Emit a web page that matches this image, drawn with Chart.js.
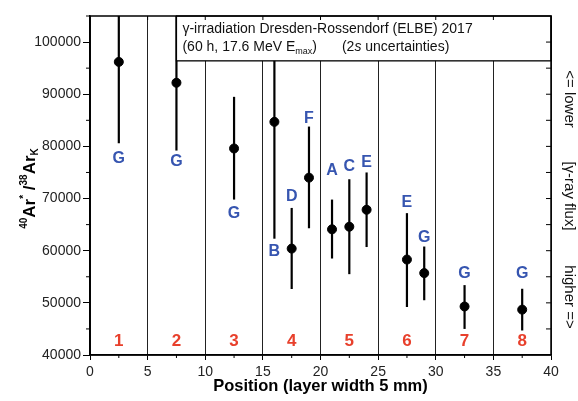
<!DOCTYPE html>
<html>
<head>
<meta charset="utf-8">
<script src="https://cdn.jsdelivr.net/npm/chart.js@4.4.0/dist/chart.umd.min.js"></script>
<style>
  html, body { margin: 0; padding: 0; background: #fff; }
  #wrap { width: 578px; height: 401px; }
</style>
</head>
<body>
<div id="wrap"><canvas id="grafico" width="578" height="401"></canvas></div>
<script>
// datos
const posicion = [2.5, 7.5, 12.5, 16, 17.5, 19, 21, 22.5, 24, 27.5, 29, 32.5, 37.5];
const razon    = [96200, 92200, 79600, 84700, 60400, 74000, 64100, 64600, 67850, 58300, 55700, 49300, 48700];
const errBajo  = [80600, 79200, 69800, 62300, 52650, 64300, 58500, 55500, 60700, 49200, 50500, 45000, 44700];
const errAlto  = [111800, 105200, 89500, 107100, 68200, 83800, 69800, 73700, 75000, 67200, 60800, 53400, 52700];
const muestras = ["G", "G", "G", "B", "D", "F", "A", "C", "E", "E", "G", "G", "G"];
const muestraY = [77700, 77000, 67100, 59900, 70300, 85400, 75300, 76200, 76900, 69200, 62600, 55600, 55600];
const capas    = ["1", "2", "3", "4", "5", "6", "7", "8"];
const capaX    = [2.5, 7.5, 12.5, 17.5, 22.5, 27.5, 32.5, 37.5];
const capaY    = 42600;
const ticksY   = [40000, 50000, 60000, 70000, 80000, 90000, 100000];
const cajaY    = 96400; // borde inferior del recuadro de leyenda
const cajaX    = 7.5;

const fuente = "Arial, 'Liberation Sans', sans-serif";

// barras de error, debajo de los puntos
const barrasError = {
    id: "barrasError",
    beforeDatasetsDraw(chart) {
        const { ctx, chartArea, scales } = chart;
        ctx.save();
        ctx.beginPath();
        ctx.rect(chartArea.left, chartArea.top, chartArea.width, chartArea.height);
        ctx.clip();
        ctx.strokeStyle = "#000";
        ctx.lineWidth = 2.2;
        posicion.forEach((x, i) => {
            let px = scales.x.getPixelForValue(x);
            ctx.beginPath();
            ctx.moveTo(px, scales.y.getPixelForValue(errBajo[i]));
            ctx.lineTo(px, scales.y.getPixelForValue(errAlto[i]));
            ctx.stroke();
        });
        ctx.restore();
    }
};

// recuadro, marco, marcas menores y textos
const decorado = {
    id: "decorado",
    afterDatasetsDraw(chart) {
        const { ctx, chartArea, scales } = chart;
        const xs = scales.x, ys = scales.y;
        ctx.save();

        // recuadro de leyenda
        let bx = xs.getPixelForValue(cajaX);
        let by = ys.getPixelForValue(cajaY);
        ctx.fillStyle = "#fff";
        ctx.fillRect(bx, chartArea.top, chartArea.right - bx, by - chartArea.top);
        ctx.strokeStyle = "#000";
        ctx.lineWidth = 1.3;
        ctx.strokeRect(bx, chartArea.top, chartArea.right - bx, by - chartArea.top);

        ctx.fillStyle = "#111";
        ctx.textBaseline = "middle";
        ctx.textAlign = "left";
        ctx.font = "14px " + fuente;
        let tx = bx + 6;
        ctx.fillText("\u03b3-irradiation Dresden-Rossendorf (ELBE) 2017", tx, chartArea.top + 13);
        let ly = chartArea.top + 31;
        let t1 = "(60 h, 17.6 MeV E";
        ctx.fillText(t1, tx, ly);
        let w = tx + ctx.measureText(t1).width;
        ctx.font = "9px " + fuente;
        ctx.fillText("max", w, ly + 5);
        w += ctx.measureText("max").width;
        ctx.font = "14px " + fuente;
        ctx.fillText(")", w, ly);
        w += ctx.measureText(")").width + 25;
        ctx.fillText("(2", w, ly);
        w += ctx.measureText("(2").width;
        ctx.font = "italic 14px " + fuente;
        ctx.fillText("s", w, ly);
        w += ctx.measureText("s").width;
        ctx.font = "14px " + fuente;
        ctx.fillText(" uncertainties)", w, ly);

        // marco superior y derecho
        ctx.strokeStyle = "#000";
        ctx.lineWidth = 1.5;
        ctx.strokeRect(chartArea.left, chartArea.top, chartArea.width, chartArea.height);

        // marcas menores
        ctx.lineWidth = 1;
        ctx.beginPath();
        for (let v = 45000; v <= 105000; v += 10000) {
            let py = ys.getPixelForValue(v);
            ctx.moveTo(chartArea.left - 4, py);
            ctx.lineTo(chartArea.left, py);
        }
        for (let v = 45000; v < 105000; v += 5000) {
            let py = ys.getPixelForValue(v);
            ctx.moveTo(chartArea.right - 5, py);
            ctx.lineTo(chartArea.right, py);
        }
        for (let v = 2.5; v < 40; v += 5) {
            let px = xs.getPixelForValue(v);
            ctx.moveTo(px, chartArea.bottom);
            ctx.lineTo(px, chartArea.bottom + 3);
        }
        for (let v = 5; v < 40; v += 5) {
            let px = xs.getPixelForValue(v);
            ctx.moveTo(px, chartArea.top);
            ctx.lineTo(px, chartArea.top + 4);
        }
        ctx.stroke();

        // etiquetas de muestras
        ctx.textAlign = "center";
        ctx.textBaseline = "middle";
        ctx.font = "bold 16px " + fuente;
        ctx.fillStyle = "#3655b0";
        muestras.forEach((m, i) => {
            ctx.fillText(m, xs.getPixelForValue(posicion[i]), ys.getPixelForValue(muestraY[i]));
        });

        // numeros de capa
        ctx.font = "bold 17px " + fuente;
        ctx.fillStyle = "#e8402c";
        capas.forEach((c, i) => {
            ctx.fillText(c, xs.getPixelForValue(capaX[i]), ys.getPixelForValue(capaY));
        });

        // titulo del eje y con superindices
        let partes = [
            ["40", "bold 10px ", -6],
            ["Ar", "bold 17px ", 0],
            ["*", "bold 10px ", -6],
            [" /", "bold 17px ", 0],
            ["38", "bold 10px ", -6],
            ["Ar", "bold 17px ", 0],
            ["K", "bold 10px ", 5]
        ];
        let total = 0;
        partes.forEach(p => { ctx.font = p[1] + fuente; total += ctx.measureText(p[0]).width; });
        ctx.save();
        ctx.translate(30, (chartArea.top + chartArea.bottom) / 2 + 3);
        ctx.rotate(-Math.PI / 2);
        ctx.fillStyle = "#000";
        ctx.textAlign = "left";
        let cx = -total / 2;
        partes.forEach(p => {
            ctx.font = p[1] + fuente;
            ctx.fillText(p[0], cx, p[2]);
            cx += ctx.measureText(p[0]).width;
        });
        ctx.restore();

        // texto del lado derecho
        ctx.save();
        ctx.translate(chartArea.right + 18, 0);
        ctx.rotate(Math.PI / 2);
        ctx.fillStyle = "#111";
        ctx.font = "15px " + fuente;
        ctx.textAlign = "center";
        ctx.fillText("<= lower", 99, 0);
        ctx.fillText("[\u03b3-ray flux]", 196, 0);
        ctx.fillText("higher =>", 297, 0);
        ctx.restore();

        ctx.restore();
    }
};

const puntos = posicion.map((x, i) => ({ x: x, y: razon[i] }));

new Chart(document.getElementById("grafico"), {
    type: "scatter",
    data: {
        datasets: [{
            data: puntos,
            backgroundColor: "#000",
            borderColor: "#000",
            pointRadius: 4.5,
            pointHoverRadius: 4.5
        }]
    },
    options: {
        responsive: false,
        animation: false,
        layout: { padding: { top: 16, right: 27, left: 0, bottom: 0 } },
        plugins: {
            legend: { display: false },
            tooltip: { enabled: false }
        },
        scales: {
            x: {
                type: "linear",
                min: 0,
                max: 40,
                afterFit: s => { s.height = 46; },
                ticks: {
                    stepSize: 5,
                    color: "#222",
                    padding: 4,
                    maxRotation: 0,
                    font: { family: fuente, size: 14 }
                },
                grid: {
                    color: "#222",
                    lineWidth: 1,
                    tickLength: 5,
                    tickColor: "#000"
                },
                border: { color: "#000", width: 1.5 },
                title: {
                    display: true,
                    text: "Position (layer width 5 mm)",
                    color: "#000",
                    font: { family: fuente, size: 16.5, weight: "bold" },
                    padding: { top: 0, bottom: 5 }
                }
            },
            y: {
                type: "linear",
                min: 40000,
                max: 105000,
                afterFit: s => { s.width = 90; },
                afterBuildTicks: s => { s.ticks = ticksY.map(v => ({ value: v })); },
                ticks: {
                    autoSkip: false,
                    color: "#222",
                    padding: 2,
                    font: { family: fuente, size: 14 },
                    callback: v => String(v)
                },
                grid: {
                    drawOnChartArea: false,
                    tickLength: 7,
                    tickColor: "#000"
                },
                border: { color: "#000", width: 1.5 }
            }
        }
    },
    plugins: [barrasError, decorado]
});
</script>
</body>
</html>
